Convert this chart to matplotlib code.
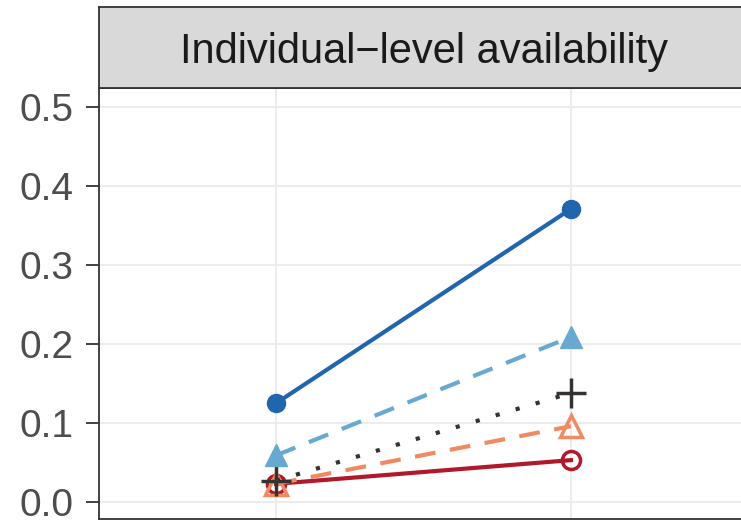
import numpy as np
import matplotlib
matplotlib.use("Agg")
import matplotlib.pyplot as plt

plt.rcParams['font.family'] = ['Liberation Sans', 'DejaVu Sans']

# Dati
x_pos = [1, 2]
blu_scuro = [0.125, 0.371]
blu_chiaro = [0.059, 0.209]
nero = [0.027, 0.138]
arancio = [0.023, 0.096]
rosso = [0.023, 0.053]
y_ticks = [0.0, 0.1, 0.2, 0.3, 0.4, 0.5]
titolo = "Individual\u2212level availability"

W, H = 741, 521
fig = plt.figure(figsize=(W / 100, H / 100), dpi=100)

# pannello (si estende oltre il bordo destro, come nel riferimento)
left, right, top, bottom = 99, 748, 88, 519
ax = fig.add_axes([left / W, 1 - bottom / H, (right - left) / W, (bottom - top) / H])

# serie (ordine di disegno: rosso sotto, nero sopra)
ax.plot(x_pos, rosso, color='#B2182B', lw=3, ls='-', marker='o', ms=13,
        mfc='none', mec='#B2182B', mew=2.5, zorder=3)
ax.plot(x_pos, arancio, color='#EF8A62', lw=3, ls=(0, (5, 3.5)), marker='^', ms=16,
        mfc='none', mec='#EF8A62', mew=2.5, zorder=4)
ax.plot(x_pos, nero, color='#333333', lw=3, ls=(0, (1, 4)), marker='+', ms=21,
        mew=2.5, zorder=5, dash_capstyle='butt')
ax.plot(x_pos, blu_chiaro, color='#67A9CF', lw=3, ls=(0, (5, 3.5)), marker='^', ms=16,
        mec='#67A9CF', zorder=6)
ax.plot(x_pos, blu_scuro, color='#2166AC', lw=3, ls='-', marker='o', ms=13,
        mec='#2166AC', zorder=7)

ax.set_xlim(0.4, 2.6)
ax.set_ylim(-0.0215, 0.524)
ax.set_xticks(x_pos)
ax.set_yticks(y_ticks)
ax.set_yticklabels([f"{v:.1f}" for v in y_ticks])
ax.tick_params(axis='x', length=0, labelbottom=False)
ax.tick_params(axis='y', length=9.5, width=1.3, color='#333333', labelsize=28,
               labelcolor='#4D4D4D', pad=9)
ax.grid(True, color='#EBEBEB', lw=1.3)
ax.set_axisbelow(True)
for s in ax.spines.values():
    s.set_color('#333333')
    s.set_linewidth(1.3)

# striscia del facet
strip = fig.add_axes([left / W, 1 - top / H, (right - left) / W, (top - 7) / H])
strip.set_facecolor('#D9D9D9')
strip.set_xticks([])
strip.set_yticks([])
for s in strip.spines.values():
    s.set_color('#333333')
    s.set_linewidth(1.3)
fig.text(424 / W, 1 - 63 / H, titolo, ha='center', va='baseline',
         fontsize=30, color='#1A1A1A')

fig.savefig('out.png', dpi=100)
